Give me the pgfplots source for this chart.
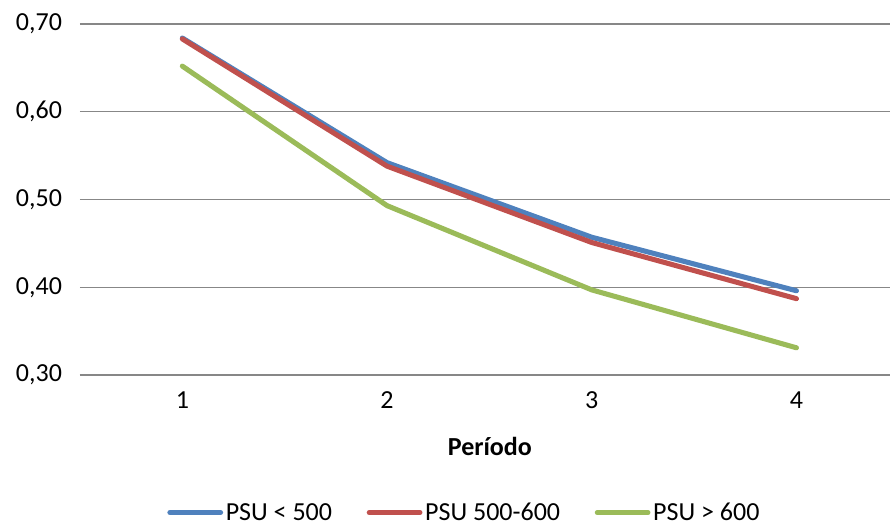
\documentclass[border=0pt]{standalone}
\usepackage{fontspec}
\setmainfont{Carlito}
\usepackage{pgfplots}
\pgfplotsset{compat=1.18}
\definecolor{cblue}{HTML}{4F81BD}
\definecolor{cred}{HTML}{C0504D}
\definecolor{cgreen}{HTML}{9BBB59}
\definecolor{cgrid}{HTML}{878787}
\begin{document}
\begin{tikzpicture}[x=1pt,y=1pt]
\begin{axis}[
  name=ax, at={(0,0)}, anchor=south west,
  scale only axis, width=607.5pt, height=263.25pt,
  xmin=0.5, xmax=4.457, ymin=0.3, ymax=0.7,
  xtick={1,2,3,4}, ytick={0.3,0.4,0.5,0.6,0.7},
  major tick length=0pt,
  axis x line*=bottom, axis y line*=left,
  x axis line style={cgrid, line width=0.8pt, -},
  y axis line style={draw=none},
  ymajorgrids, grid style={cgrid, line width=0.8pt},
  font=\fontsize{19.5}{23}\selectfont,
  /pgf/number format/assume math mode=true,
  yticklabel style={/pgf/number format/use comma, /pgf/number format/fixed,
    /pgf/number format/fixed zerofill, /pgf/number format/precision=2, xshift=-10pt},
  xticklabel style={yshift=-9pt},
  xlabel={\textbf{Período}},
  xlabel style={at={(axis description cs:0.506,-0.205)}, anchor=center},
  legend style={at={(0.475,-0.392)}, anchor=center, draw=none, legend columns=3,
    /tikz/every even column/.append style={column sep=24pt}, font=\fontsize{19.5}{23}\selectfont},
  legend image code/.code={\draw[#1, line cap=round] (0pt,0pt) -- (38pt,0pt);},
  every axis plot/.append style={line width=3.8pt, line join=round, line cap=round},
]
\addplot[cblue] coordinates {(1,0.684) (2,0.542) (3,0.457) (4,0.396)};
\addlegendentry{PSU < 500}
\addplot[cred] coordinates {(1,0.683) (2,0.538) (3,0.451) (4,0.387)};
\addlegendentry{PSU 500-600}
\addplot[cgreen] coordinates {(1,0.652) (2,0.493) (3,0.397) (4,0.331)};
\addlegendentry{PSU > 600}
\end{axis}
\pgfresetboundingbox
\path[use as bounding box] (-60pt,-114pt) rectangle (607.5pt,281.25pt);
\end{tikzpicture}
\end{document}
